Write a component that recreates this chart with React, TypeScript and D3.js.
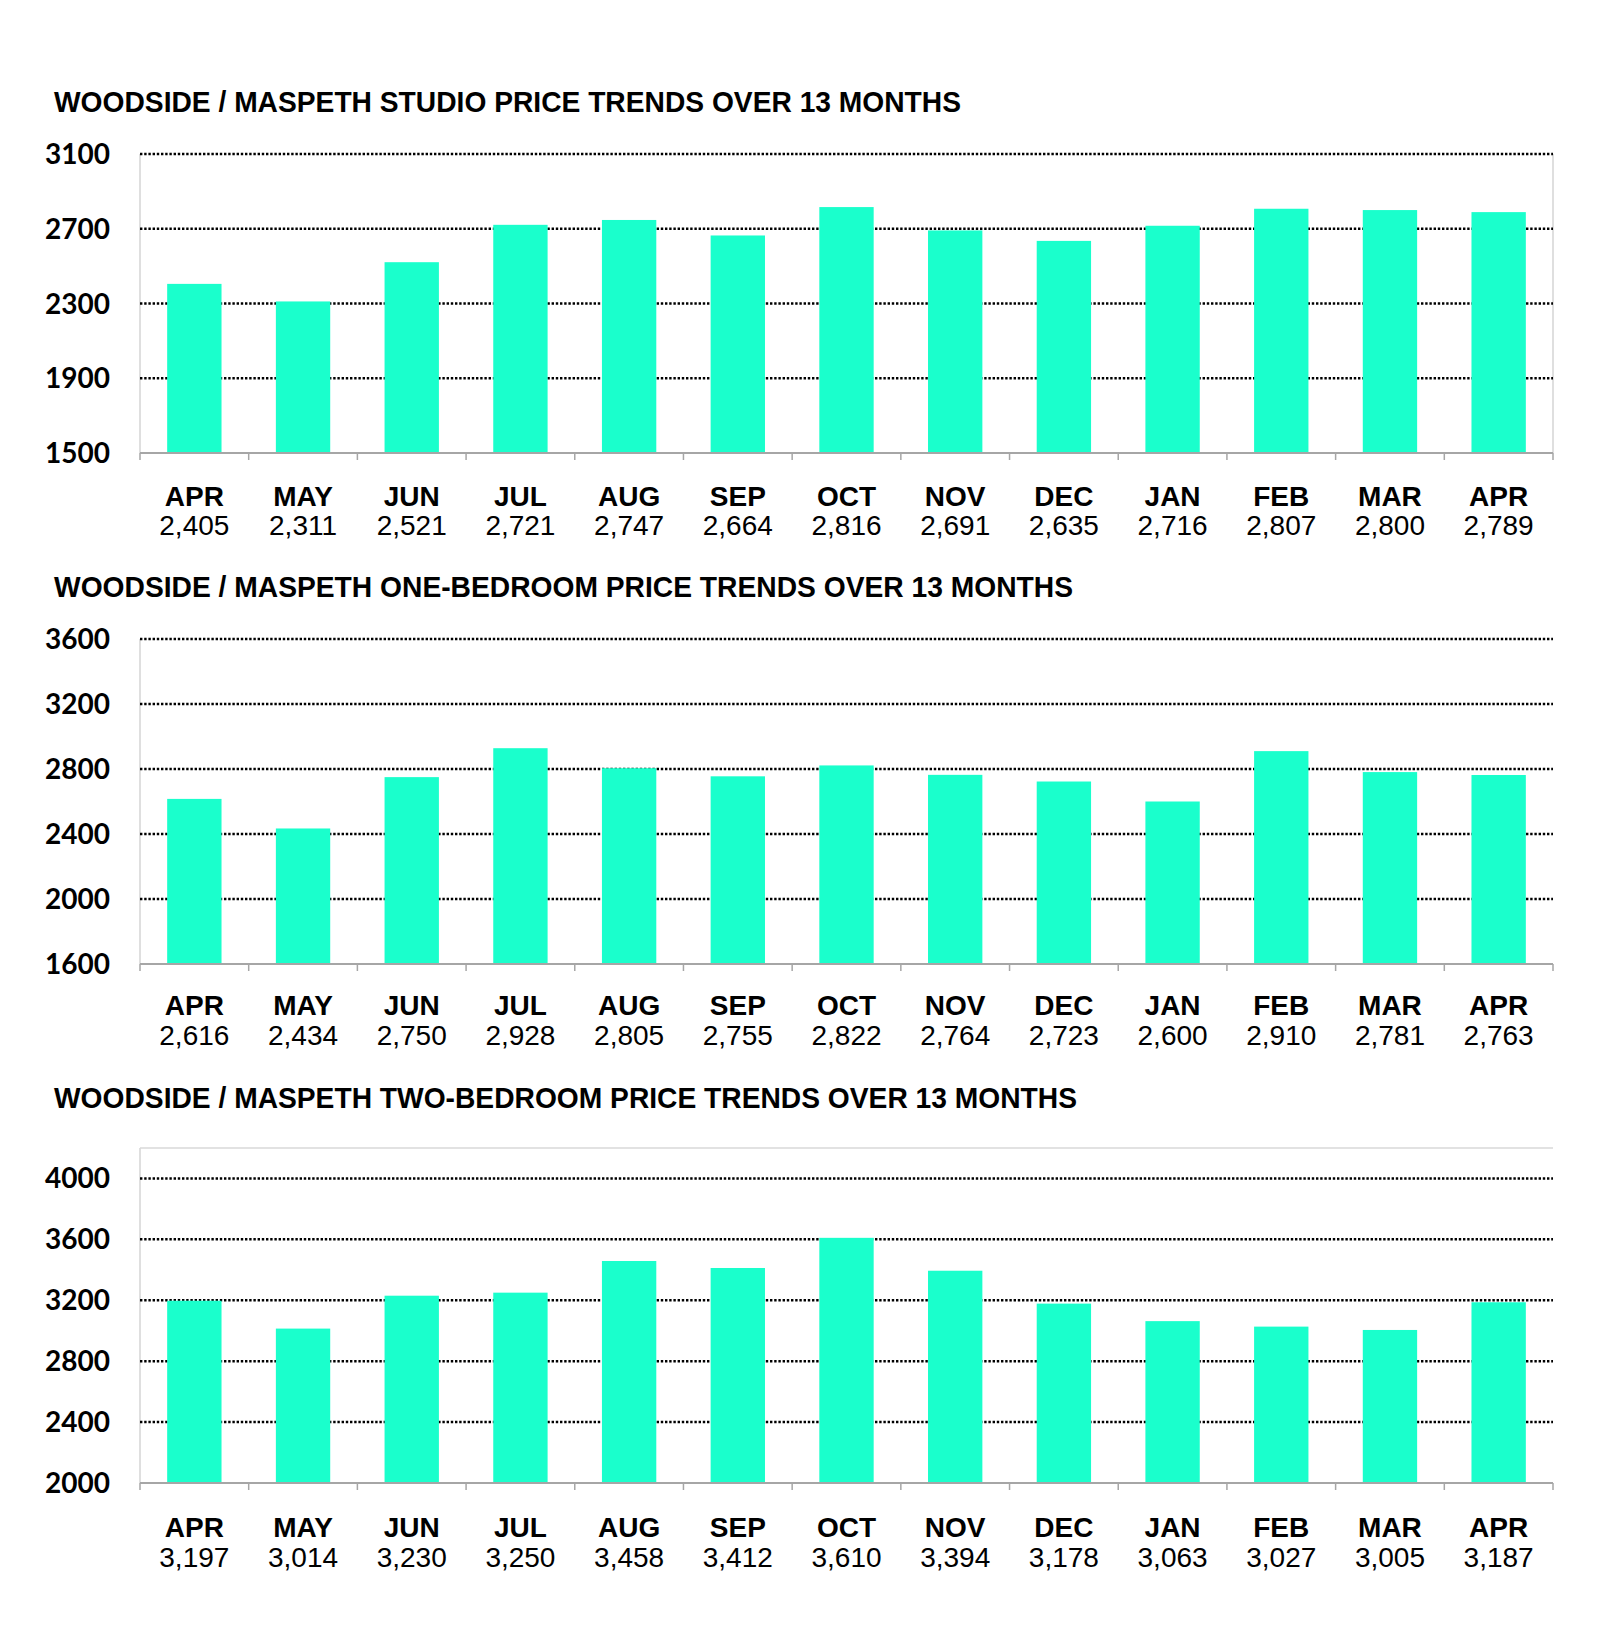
import React from "react";
import * as d3 from "d3";

const months = ["APR", "MAY", "JUN", "JUL", "AUG", "SEP", "OCT", "NOV", "DEC", "JAN", "FEB", "MAR", "APR"];
const studioValues = [2405, 2311, 2521, 2721, 2747, 2664, 2816, 2691, 2635, 2716, 2807, 2800, 2789];
const oneBedValues = [2616, 2434, 2750, 2928, 2805, 2755, 2822, 2764, 2723, 2600, 2910, 2781, 2763];
const twoBedValues = [3197, 3014, 3230, 3250, 3458, 3412, 3610, 3394, 3178, 3063, 3027, 3005, 3187];

const studioTicks = [1500, 1900, 2300, 2700, 3100];
const oneBedTicks = [1600, 2000, 2400, 2800, 3200, 3600];
const twoBedTicks = [2000, 2400, 2800, 3200, 3600, 4000];

const titles = [
  "WOODSIDE / MASPETH STUDIO PRICE TRENDS OVER 13 MONTHS",
  "WOODSIDE / MASPETH ONE-BEDROOM PRICE TRENDS OVER 13 MONTHS",
  "WOODSIDE / MASPETH TWO-BEDROOM PRICE TRENDS OVER 13 MONTHS",
];

const BAR = "#1affcc";
const LEFT = 140;
const RIGHT = 1553;

type PanelProps = {
  title: string;
  titleLength: number;
  values: number[];
  ticks: number[];
  domain: [number, number];
  titleY: number;
  top: number;
  bottom: number;
  labelY: number;
  valueY: number;
  rightBorder?: boolean;
  topBorder?: boolean;
};

function Panel(p: PanelProps) {
  const x = d3
    .scaleBand<number>()
    .domain(months.map((_, i) => i))
    .range([LEFT, RIGHT])
    .paddingInner(0)
    .paddingOuter(0);
  const y = d3.scaleLinear().domain(p.domain).range([p.bottom, p.top]);
  const bw = x.bandwidth();
  const fmt = d3.format(",");
  const frameTop = y(p.domain[1]);
  const gridTicks = p.ticks.filter((t) => t !== p.domain[0]);
  return (
    <g>
      <text
        x={54}
        y={p.titleY}
        fontFamily="'Liberation Sans', Arial, sans-serif"
        fontWeight="bold"
        fontSize={30}
        fill="#000"
        textLength={p.titleLength}
        lengthAdjust="spacingAndGlyphs"
      >
        {p.title}
      </text>
      {/* frame */}
      <line x1={LEFT} x2={LEFT} y1={frameTop} y2={p.bottom} stroke="#d4d4d4" strokeWidth={1.5} />
      {p.rightBorder && (
        <line x1={RIGHT} x2={RIGHT} y1={frameTop} y2={p.bottom} stroke="#d4d4d4" strokeWidth={1.5} />
      )}
      {p.topBorder && (
        <line x1={LEFT} x2={RIGHT} y1={frameTop} y2={frameTop} stroke="#d9d9d9" strokeWidth={1.5} />
      )}
      {/* gridlines */}
      {gridTicks.map((t) => (
        <line
          key={t}
          x1={LEFT}
          x2={RIGHT}
          y1={y(t)}
          y2={y(t)}
          stroke="#000"
          strokeWidth={2.5}
          strokeDasharray="2.4 1.8"
        />
      ))}
      {/* y labels */}
      {p.ticks.map((t) => (
        <text
          key={t}
          x={110}
          y={y(t) + 10}
          textAnchor="end"
          fontFamily="Lato, 'Open Sans', sans-serif"
          fontWeight="bold"
          fontSize={28}
          fill="#000"
        >
          {t}
        </text>
      ))}
      {/* bars */}
      {p.values.map((v, i) => (
        <rect
          key={i}
          x={(x(i) as number) + bw * 0.25}
          width={bw * 0.5}
          y={y(v)}
          height={p.bottom - y(v)}
          fill={BAR}
        />
      ))}
      {/* x axis */}
      <line x1={LEFT} x2={RIGHT} y1={p.bottom} y2={p.bottom} stroke="#a6a6a6" strokeWidth={2} />
      {months.map((_, i) => (
        <line
          key={"t" + i}
          x1={x(i) as number}
          x2={x(i) as number}
          y1={p.bottom}
          y2={p.bottom + 7}
          stroke="#a6a6a6"
          strokeWidth={1.5}
        />
      ))}
      <line x1={RIGHT} x2={RIGHT} y1={p.bottom} y2={p.bottom + 7} stroke="#a6a6a6" strokeWidth={1.5} />
      {/* category labels */}
      {months.map((m, i) => (
        <g key={"l" + i}>
          <text
            x={(x(i) as number) + bw / 2}
            y={p.labelY}
            textAnchor="middle"
            fontFamily="'Liberation Sans', Arial, sans-serif"
            fontWeight="bold"
            fontSize={28}
            fill="#000"
          >
            {m}
          </text>
          <text
            x={(x(i) as number) + bw / 2}
            y={p.valueY}
            textAnchor="middle"
            fontFamily="'Liberation Sans', Arial, sans-serif"
            fontSize={28}
            fill="#000"
          >
            {fmt(p.values[i])}
          </text>
        </g>
      ))}
    </g>
  );
}

export default function App() {
  return (
    <>
      <style>{`body{margin:0}`}</style>
      <svg width={1600} height={1630} style={{ display: "block", background: "#fff" }}>
        <rect width={1600} height={1630} fill="#fff" />
        <Panel
          title={titles[0]}
          titleLength={907}
          values={studioValues}
          ticks={studioTicks}
          domain={[1500, 3100]}
          titleY={112}
          top={154}
          bottom={453}
          labelY={506}
          valueY={535}
          rightBorder
        />
        <Panel
          title={titles[1]}
          titleLength={1019}
          values={oneBedValues}
          ticks={oneBedTicks}
          domain={[1600, 3600]}
          titleY={597}
          top={639}
          bottom={964}
          labelY={1015}
          valueY={1045}
        />
        <Panel
          title={titles[2]}
          titleLength={1023}
          values={twoBedValues}
          ticks={twoBedTicks}
          domain={[2000, 4200]}
          titleY={1108}
          top={1148}
          bottom={1483}
          labelY={1537}
          valueY={1567}
          topBorder
        />
      </svg>
    </>
  );
}
